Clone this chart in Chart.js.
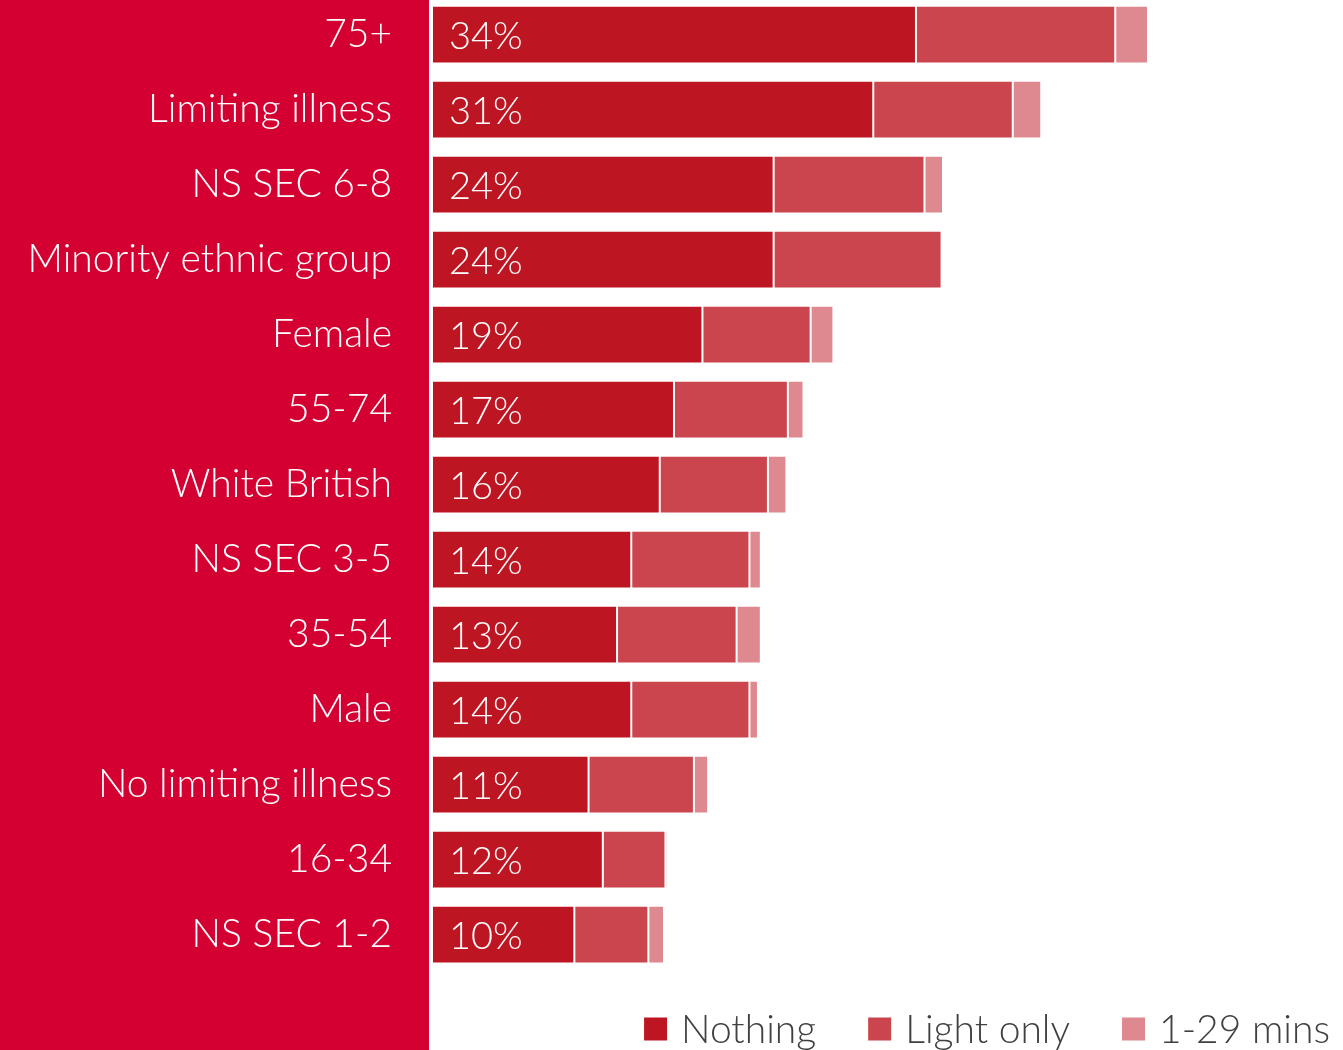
<!DOCTYPE html>
<html>
<head>
<meta charset="utf-8">
<script src="https://cdn.jsdelivr.net/npm/chart.js@4"></script>
<style>
  html, body { margin: 0; padding: 0; background: #fff; overflow: hidden; }
  #wrap { position: absolute; left: 0; top: -3px; width: 1343px; height: 1053px; }
</style>
</head>
<body>
<div id="wrap"><canvas id="canvas"></canvas></div>
<script>
// grupos y porcentajes de cada segmento
const grupos = ['75+', 'Limiting illness', 'NS SEC 6-8', 'Minority ethnic group', 'Female', '55-74',
  'White British', 'NS SEC 3-5', '35-54', 'Male', 'No limiting illness', '16-34', 'NS SEC 1-2'];
const nothing = [34, 31, 24, 24, 19, 17, 16, 14, 13, 14, 11, 12, 10];
const lightOnly = [14.0, 9.8, 10.6, 11.8, 7.6, 8.0, 7.6, 8.3, 8.4, 8.3, 7.4, 4.4, 5.2];
const mins = [2.3, 2.0, 1.3, 0, 1.6, 1.1, 1.3, 0.8, 1.7, 0.6, 1.0, 0.15, 1.1];
const series = ['Nothing', 'Light only', '1-29 mins'];

const colores = ['#BD1622', '#CA454D', '#DE8990'];
const fuente = 'Lato, "Open Sans", sans-serif';

// panel rojo detras de las etiquetas
const panel = {
  id: 'panel',
  beforeDraw(chart) {
    const ctx = chart.ctx;
    ctx.save();
    ctx.fillStyle = '#D30031';
    ctx.fillRect(0, 0, 429, chart.height);
    ctx.restore();
  }
};

// porcentaje de "Nothing" escrito dentro de cada barra
const etiquetas = {
  id: 'etiquetas',
  afterDatasetsDraw(chart) {
    const ctx = chart.ctx;
    const meta = chart.getDatasetMeta(0);
    ctx.save();
    ctx.fillStyle = '#fff';
    ctx.font = '300 38px ' + fuente;
    ctx.textAlign = 'left';
    ctx.textBaseline = 'middle';
    meta.data.forEach((bar, i) => {
      ctx.fillText(nothing[i] + '%', chart.chartArea.left + 17, bar.y + 2);
    });
    ctx.restore();
  }
};

// leyenda abajo a la derecha, alineada al borde derecho
const leyenda = {
  id: 'leyenda',
  afterDraw(chart) {
    const ctx = chart.ctx;
    const sets = chart.data.datasets;
    const caja = 23, hueco = 14, sep = 52;
    const y = chart.height - 21;
    ctx.save();
    ctx.font = '300 39px ' + fuente;
    ctx.textBaseline = 'middle';
    ctx.textAlign = 'left';
    let x = chart.width - 13;
    for (let i = sets.length - 1; i >= 0; i--) {
      const w = ctx.measureText(sets[i].label).width;
      x -= w;
      ctx.fillStyle = '#404040';
      ctx.fillText(sets[i].label, x, y + 1);
      x -= hueco + caja;
      ctx.fillStyle = sets[i].backgroundColor;
      ctx.fillRect(x, y - caja / 2, caja, caja);
      x -= sep;
    }
    ctx.restore();
  }
};

const ctx = document.getElementById('canvas').getContext('2d');
new Chart(ctx, {
  type: 'bar',
  data: {
    labels: grupos,
    datasets: [nothing, lightOnly, mins].map((d, i) => ({
      label: series[i],
      data: d,
      backgroundColor: colores[i],
      borderColor: 'rgba(255,255,255,0.14)',
      borderWidth: 1,
      borderSkipped: false,
      barPercentage: 0.77,
      categoryPercentage: 1
    }))
  },
  options: {
    indexAxis: 'y',
    responsive: true,
    maintainAspectRatio: false,
    animation: false,
    layout: { padding: { right: 0, top: 0, bottom: 78 } },
    scales: {
      x: {
        stacked: true,
        display: false,
        min: 0,
        max: 64
      },
      y: {
        stacked: true,
        grid: { display: false, drawTicks: false },
        border: { display: false },
        afterFit(scale) {
          scale.width = 432;
          scale.paddingTop = 0;
          scale.paddingBottom = 0;
        },
        ticks: {
          color: '#fff',
          padding: 40,
          font: { family: fuente, size: 39, weight: '300' }
        }
      }
    },
    plugins: {
      legend: { display: false },
      tooltip: { enabled: false }
    }
  },
  plugins: [panel, etiquetas, leyenda]
});
</script>
</body>
</html>
